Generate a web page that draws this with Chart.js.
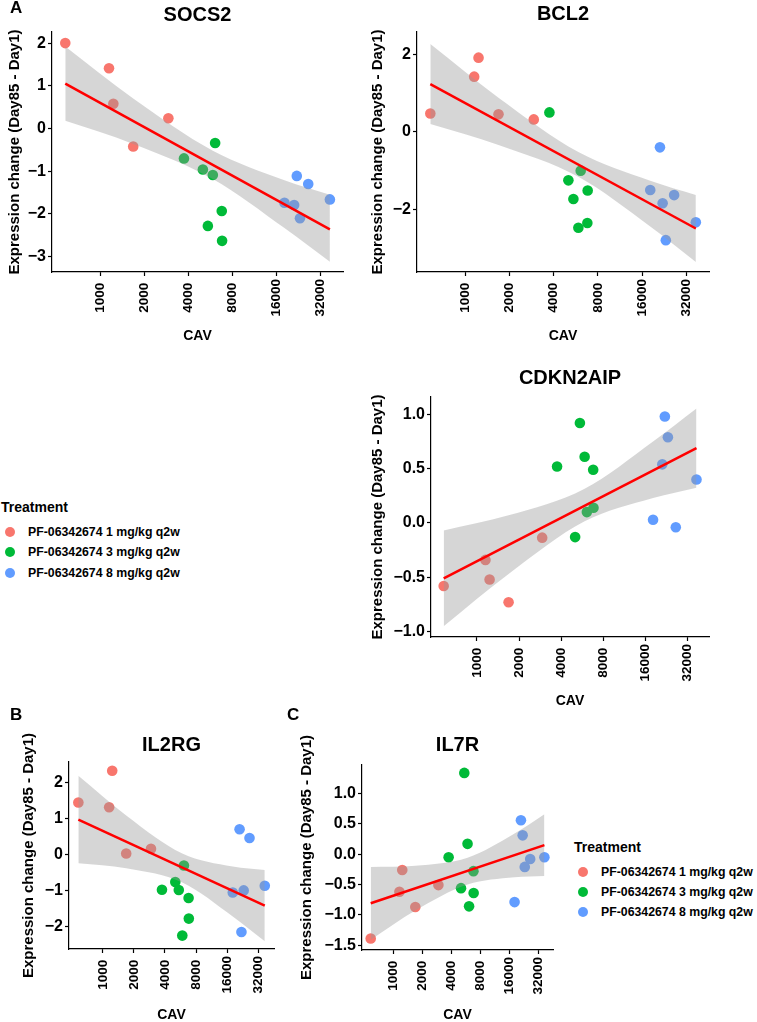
<!DOCTYPE html>
<html>
<head>
<meta charset="utf-8">
<script src="https://cdn.jsdelivr.net/npm/chart.js@4.4.1/dist/chart.umd.min.js"></script>
<style>
  body { margin: 0; background: #fff; font-family: 'Liberation Sans', Arial, sans-serif; }
  #page { position: relative; width: 757px; height: 1022px; overflow: hidden; }
  canvas, .txt, .dot { position: absolute; }
  .txt { white-space: nowrap; color: #000; font-weight: bold; }
  .dot { width: 10px; height: 10px; border-radius: 50%; }
</style>
</head>
<body>
<div id="page">
  <canvas id="socs2" width="370" height="345" style="left:0;top:0"></canvas>
  <canvas id="bcl2" width="387" height="345" style="left:370px;top:0"></canvas>
  <canvas id="cdkn2aip" width="387" height="365" style="left:370px;top:345px"></canvas>
  <canvas id="il2rg" width="370" height="314" style="left:0;top:710px"></canvas>
  <canvas id="il7r" width="280" height="314" style="left:290px;top:710px"></canvas>
  <div class="txt" style="left:10px;top:-1px;font-size:17px;line-height:17px">A</div>
  <div class="txt" style="left:10px;top:706px;font-size:17px;line-height:17px">B</div>
  <div class="txt" style="left:287px;top:706px;font-size:17px;line-height:17px">C</div>
</div>
<script>
// treatment groups
const treatments = ['PF-06342674 1 mg/kg q2w', 'PF-06342674 3 mg/kg q2w', 'PF-06342674 8 mg/kg q2w'];
const colors = ['#F8766D', '#00BA38', '#619CFF'];

// one entry per subject
const cav = [579, 1151, 1232, 1684, 2926, 3738, 5031, 5442, 5883, 6101, 6770, 6806,
  18130, 21110, 22010, 23140, 26350, 37030];
const dose = [0, 0, 0, 0, 0, 1, 1, 1, 1, 1, 1, 1, 2, 2, 2, 2, 2, 2];
const xTicks = [1000, 2000, 4000, 8000, 16000, 32000];

// expression change (Day85 - Day1)
const socs2 = [2.0, 1.41, 0.58, -0.42, 0.24, -0.70, -0.96, -2.28, -1.09, -0.34, -1.93, -2.63,
  -1.74, -1.79, -1.11, -2.10, -1.30, -1.66];
const bcl2 = [0.47, 1.42, 1.91, 0.45, 0.32, 0.50, -1.25, -1.73, -2.47, -1.00, -2.35, -1.51,
  -1.50, -0.40, -1.84, -2.79, -1.63, -2.33];
const cdkn2aip = [-0.58, -0.34, -0.52, -0.73, -0.135, 0.52, -0.13, 0.92, 0.61, 0.10, 0.49, 0.14,
  0.03, 0.54, 0.98, 0.79, -0.04, 0.40];
const il2rg = [1.44, 1.31, 2.32, 0.03, 0.16, -0.97, -0.76, -0.98, -2.24, -0.30, -1.20, -1.77,
  -1.05, 0.70, -2.14, -0.99, 0.46, -0.86];
const il7r = [-1.39, -0.62, -0.26, -0.87, -0.51, -0.05, -0.56, 1.34, 0.17, -0.86, -0.28, -0.64,
  -0.79, 0.56, 0.31, -0.21, -0.08, -0.05];

// fitted line ends and confidence band
const fitX = [579, 37030];
const bandX = [579, 1684, 5883, 18130, 37030];
const socs2Fit = [1.05, -2.36];
const socs2Upper = [1.92, 0.70, -0.52, -1.21, -1.55];
const socs2Lower = [0.18, -0.36, -1.18, -2.33, -3.12];
const bcl2Fit = [1.23, -2.49];
const bcl2Upper = [2.26, 0.88, -0.52, -1.26, -1.63];
const bcl2Lower = [0.20, -0.34, -1.16, -2.44, -3.35];
const cdkn2aipFit = [-0.51, 0.69];
const cdkn2aipUpper = [-0.07, 0.07, 0.315, 0.75, 1.055];
const cdkn2aipLower = [-0.95, -0.47, 0.015, 0.23, 0.325];
const il2rgFit = [0.97, -1.41];
const il2rgUpper = [2.18, 1.08, 0.03, -0.33, -0.425];
const il2rgLower = [-0.24, -0.38, -0.77, -1.71, -2.395];
const il7rFit = [-0.81, 0.15];
const il7rUpper = [-0.21, -0.19, -0.06, 0.34, 0.66];
const il7rLower = [-1.41, -0.93, -0.50, -0.38, -0.36];

Chart.defaults.font.family = "'Liberation Sans', Arial, sans-serif";
Chart.defaults.color = '#000';

const panels = [
  { id: 'socs2', title: 'SOCS2', vals: socs2, fit: socs2Fit, up: socs2Upper, lo: socs2Lower,
    yTicks: [-3, -2, -1, 0, 1, 2], yMin: -3.36, yMax: 2.26, dec: 0,
    yW: 52, xH: 73, padR: 27, tTop: 3.5, tBot: 4.5, yTitlePad: 6, xTitlePad: 0 },
  { id: 'bcl2', title: 'BCL2', vals: bcl2, fit: bcl2Fit, up: bcl2Upper, lo: bcl2Lower,
    yTicks: [-2, 0, 2], yMin: -3.61, yMax: 2.57, dec: 0,
    yW: 47, xH: 73, padR: 48, tTop: 2.3, tBot: 5.7, yTitlePad: -1.5, xTitlePad: 0 },
  { id: 'cdkn2aip', title: 'CDKN2AIP', vals: cdkn2aip, fit: cdkn2aipFit, up: cdkn2aipUpper, lo: cdkn2aipLower,
    yTicks: [-1, -0.5, 0, 0.5, 1], yMin: -1.05, yMax: 1.16, dec: 1,
    yW: 61, xH: 73, padR: 48, tTop: 21.8, tBot: 6.2, yTitlePad: -1.5, xTitlePad: 0 },
  { id: 'il2rg', title: 'IL2RG', vals: il2rg, fit: il2rgFit, up: il2rgUpper, lo: il2rgLower,
    yTicks: [-2, -1, 0, 1, 2], yMin: -2.61, yMax: 2.56, dec: 0,
    yW: 69, xH: 75, padR: 96, tTop: 23, tBot: 5, yTitlePad: 20.3, xTitlePad: 0 },
  { id: 'il7r', title: 'IL7R', vals: il7r, fit: il7rFit, up: il7rUpper, lo: il7rLower,
    yTicks: [-1.5, -1, -0.5, 0, 0.5, 1], yMin: -1.58, yMax: 1.47, dec: 1,
    yW: 72, xH: 74, padR: 17, tTop: 23, tBot: 8, yTitlePad: 8.3, xTitlePad: 0 }
];

function fmt(v, d) {
  const s = Math.abs(v).toFixed(d);
  return v < 0 ? '\u2212' + s : s;
}

// labels hang from the axis end first; pad short ones so they sit centred like the original
function xLabel(v) {
  const s = String(v);
  return s.length < 5 ? s + '\u2008' : s;
}

const axisGrid = { drawOnChartArea: false, tickLength: 4, tickColor: '#000', tickWidth: 1.2 };
const axisBorder = { display: true, color: '#000', width: 1.2 };

panels.forEach(p => {
  const points = [0, 1, 2].map(g => ({
    type: 'scatter',
    data: cav.map((c, i) => ({ x: c, y: p.vals[i], g: dose[i] })).filter(d => d.g === g),
    backgroundColor: colors[g],
    borderWidth: 0,
    pointRadius: 5.3,
    order: 2
  }));

  new Chart(document.getElementById(p.id), {
    type: 'scatter',
    data: {
      datasets: [
        { type: 'line', data: fitX.map((x, i) => ({ x: x, y: p.fit[i] })),
          borderColor: '#FF0000', borderWidth: 2.5, pointRadius: 0, fill: false, order: 0 },
        { type: 'line', data: bandX.map((x, i) => ({ x: x, y: p.up[i] })),
          borderColor: 'rgba(0,0,0,0)', borderWidth: 0, pointRadius: 0,
          backgroundColor: 'rgba(153,153,153,0.4)', fill: '+1',
          cubicInterpolationMode: 'monotone', order: 1 },
        { type: 'line', data: bandX.map((x, i) => ({ x: x, y: p.lo[i] })),
          borderColor: 'rgba(0,0,0,0)', borderWidth: 0, pointRadius: 0, fill: false,
          cubicInterpolationMode: 'monotone', order: 1 },
        ...points
      ]
    },
    options: {
      responsive: false,
      animation: false,
      layout: { padding: { left: 0, right: p.padR, top: 0, bottom: 0 } },
      plugins: {
        legend: { display: false },
        tooltip: { enabled: false },
        title: { display: true, text: p.title, fullSize: false, color: '#000',
          font: { size: 20, weight: 'bold' }, padding: { top: p.tTop, bottom: p.tBot } }
      },
      scales: {
        x: {
          type: 'logarithmic', min: 470, max: 45500,
          afterBuildTicks: s => { s.ticks = xTicks.map(v => ({ value: v })); },
          afterFit: s => { s.height = p.xH; },
          ticks: { autoSkip: false, minRotation: 90, maxRotation: 90, padding: 3,
            font: { size: 13.5, weight: 'bold' }, callback: v => xLabel(v) },
          grid: axisGrid,
          border: axisBorder,
          title: { display: true, text: 'CAV', font: { size: 14, weight: 'bold' },
            padding: { top: 0, bottom: p.xTitlePad } }
        },
        y: {
          type: 'linear', min: p.yMin, max: p.yMax,
          afterBuildTicks: s => { s.ticks = p.yTicks.map(v => ({ value: v })); },
          afterFit: s => { s.width = p.yW; },
          ticks: { padding: 2, font: { size: 16, weight: 'bold' }, callback: v => fmt(v, p.dec) },
          grid: axisGrid,
          border: axisBorder,
          title: { display: true, text: 'Expression change (Day85 - Day1)',
            font: { size: 15, weight: 'bold' }, padding: { top: p.yTitlePad, bottom: 0 } }
        }
      }
    }
  });
});

// the two copies of the treatment legend
function addLegend(left, titleY, rows, dotX, textX) {
  const page = document.getElementById('page');
  const t = document.createElement('div');
  t.className = 'txt';
  t.style.cssText = `left:${left}px;top:${titleY - 7}px;font-size:14px;line-height:14px`;
  t.textContent = 'Treatment';
  page.appendChild(t);
  treatments.forEach((name, i) => {
    const d = document.createElement('div');
    d.className = 'dot';
    d.style.cssText = `left:${dotX - 5}px;top:${rows[i] - 5}px;background:${colors[i]}`;
    page.appendChild(d);
    const l = document.createElement('div');
    l.className = 'txt';
    l.style.cssText = `left:${textX}px;top:${rows[i] - 6.5}px;font-size:12.3px;line-height:13px`;
    l.textContent = name;
    page.appendChild(l);
  });
}
addLegend(1, 507, [532, 552, 573], 10, 28);
addLegend(574, 847, [872, 892, 912], 583, 601);
</script>
</body>
</html>
